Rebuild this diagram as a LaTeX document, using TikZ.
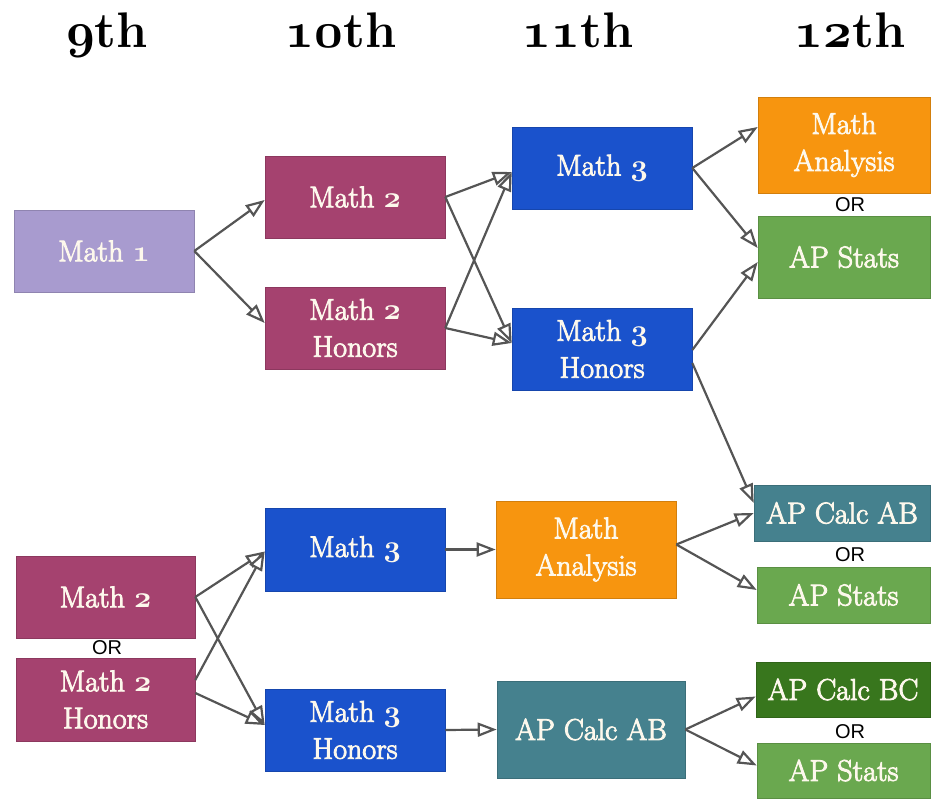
\RequirePackage{fix-cm}
\documentclass[tikz,border=0pt]{standalone}
\usepackage{fontspec}
\setmainfont{Latin Modern Roman}
\newfontfamily\boxfont[FakeBold=3]{Latin Modern Roman}
\newfontfamily\orfont{Liberation Sans}
\usetikzlibrary{arrows.meta}
\newcommand\osn[1]{{\usefont{OML}{cmm}{b}{it}#1}}
\newcommand\osnb[1]{{\usefont{OML}{cmm}{b}{it}#1}}
\definecolor{lav}{HTML}{A89BCF}
\definecolor{rasp}{HTML}{A5426F}
\definecolor{blu}{HTML}{1A52CC}
\definecolor{orng}{HTML}{F7950F}
\definecolor{lgreen}{HTML}{6AA84F}
\definecolor{teal2}{HTML}{45818E}
\definecolor{dgreen}{HTML}{38761D}
\definecolor{argray}{HTML}{555555}
\definecolor{txt}{HTML}{FDF8EC}
\tikzset{
  box/.style={rectangle, fill=#1, draw=#1!85!black, line width=0.6pt, inner sep=0pt,
    text=txt, align=center, font=\boxfont\fontsize{30}{37}\selectfont},
  hdr/.style={font=\fontsize{50}{50}\selectfont\bfseries, text=black, anchor=base},
  orlbl/.style={font=\orfont\fontsize{20}{20}\selectfont, text=black, inner sep=0pt},
  conn/.style={draw=argray, line width=2.2pt,
    -{Triangle[length=19pt,width=14pt,fill=white]}}
}
\begin{document}
\begin{tikzpicture}[x=1pt,y=-1pt]
\useasboundingbox (0,0) rectangle (932,799);
% headers
\node[hdr] (h9)  at (107,48) {\osnb{9}th};
\node[hdr] (h10) at (341,48) {\osnb{10}th};
\node[hdr] (h11) at (578,48) {\osnb{11}th};
\node[hdr] (h12) at (850,48) {\osnb{12}th};
% top section
\node[box=lav, minimum width=180pt, minimum height=82pt] (m1) at (104,251) {Math \osn{1}};
\node[box=rasp, minimum width=180pt, minimum height=82pt] (m2a) at (355,197) {Math \osn{2}};
\node[box=rasp, minimum width=180pt, minimum height=82pt] (m2ha) at (355,328) {Math \osn{2}\\Honors};
\node[box=blu, minimum width=180pt, minimum height=82pt] (m3a) at (602,168) {Math \osn{3}};
\node[box=blu, minimum width=180pt, minimum height=82pt] (m3ha) at (602,349) {Math \osn{3}\\Honors};
\node[box=orng, minimum width=172pt, minimum height=96pt] (maa) at (844,145) {Math\\Analysis};
\node[orlbl] (ora) at (850,205) {OR};
\node[box=lgreen, minimum width=172pt, minimum height=82pt] (sta) at (844,257) {AP Stats};
% bottom section
\node[box=rasp, minimum width=179pt, minimum height=82pt] (m2b) at (105.5,597) {Math \osn{2}};
\node[orlbl] (orb) at (107,648) {OR};
\node[box=rasp, minimum width=179pt, minimum height=83pt] (m2hb) at (105.5,699.5) {Math \osn{2}\\Honors};
\node[box=blu, minimum width=180pt, minimum height=83pt] (m3b) at (355,549.5) {Math \osn{3}};
\node[box=blu, minimum width=180pt, minimum height=82pt] (m3hb) at (355,730) {Math \osn{3}\\Honors};
\node[box=orng, minimum width=180pt, minimum height=97pt] (mab) at (586,549.5) {Math\\Analysis};
\node[box=teal2, minimum width=188pt, minimum height=97pt] (cab) at (591,729.5) {AP Calc AB};
\node[box=teal2, minimum width=176pt, minimum height=56pt] (cab12) at (842,513) {AP Calc AB};
\node[orlbl] (orc) at (850,555) {OR};
\node[box=lgreen, minimum width=173pt, minimum height=56pt] (stb) at (843.5,595) {AP Stats};
\node[box=dgreen, minimum width=174pt, minimum height=55pt] (cbc) at (843,689.5) {AP Calc BC};
\node[orlbl] (ord) at (850,732) {OR};
\node[box=lgreen, minimum width=173pt, minimum height=55pt] (stc) at (843.5,770.5) {AP Stats};
% connectors top
\draw[conn] (m1.east) -- ([yshift=-3pt]m2a.west);
\draw[conn] (m1.east) -- ([yshift=5pt]m2ha.west);
\draw[conn] (m2a.east) -- ([yshift=-4pt]m3a.west);
\draw[conn] (m2a.east) -- ([yshift=6pt]m3ha.west);
\draw[conn] (m2ha.east) -- ([yshift=-4pt]m3a.west);
\draw[conn] (m2ha.east) -- ([yshift=6pt]m3ha.west);
\draw[conn] (m3a.east) -- ([yshift=18pt]maa.west);
\draw[conn] (m3a.east) -- ([yshift=9pt]sta.west);
\draw[conn] ([yshift=-1pt]m3ha.east) -- ([yshift=-5pt]sta.west);
\draw[conn] ([yshift=-14pt]m3ha.east) -- ([yshift=10pt]cab12.west);
% connectors bottom
\draw[conn] (m2b.east) -- ([yshift=-2pt]m3b.west);
\draw[conn] (m2b.east) -- ([yshift=5pt]m3hb.west);
\draw[conn] ([yshift=19.5pt]m2hb.east) -- ([yshift=-2pt]m3b.west);
\draw[conn] ([yshift=6.5pt]m2hb.east) -- ([yshift=5pt]m3hb.west);
\draw[conn] (m3b.east) -- (mab.west);
\draw[conn] (m3hb.east) -- (cab.west);
\draw[conn] ([yshift=5pt]mab.east) -- (cab12.west);
\draw[conn] ([yshift=5pt]mab.east) -- ([yshift=5pt]stb.west);
\draw[conn] (cab.east) -- ([yshift=-7pt]cbc.west);
\draw[conn] (cab.east) -- ([yshift=5pt]stc.west);
\end{tikzpicture}
\end{document}
